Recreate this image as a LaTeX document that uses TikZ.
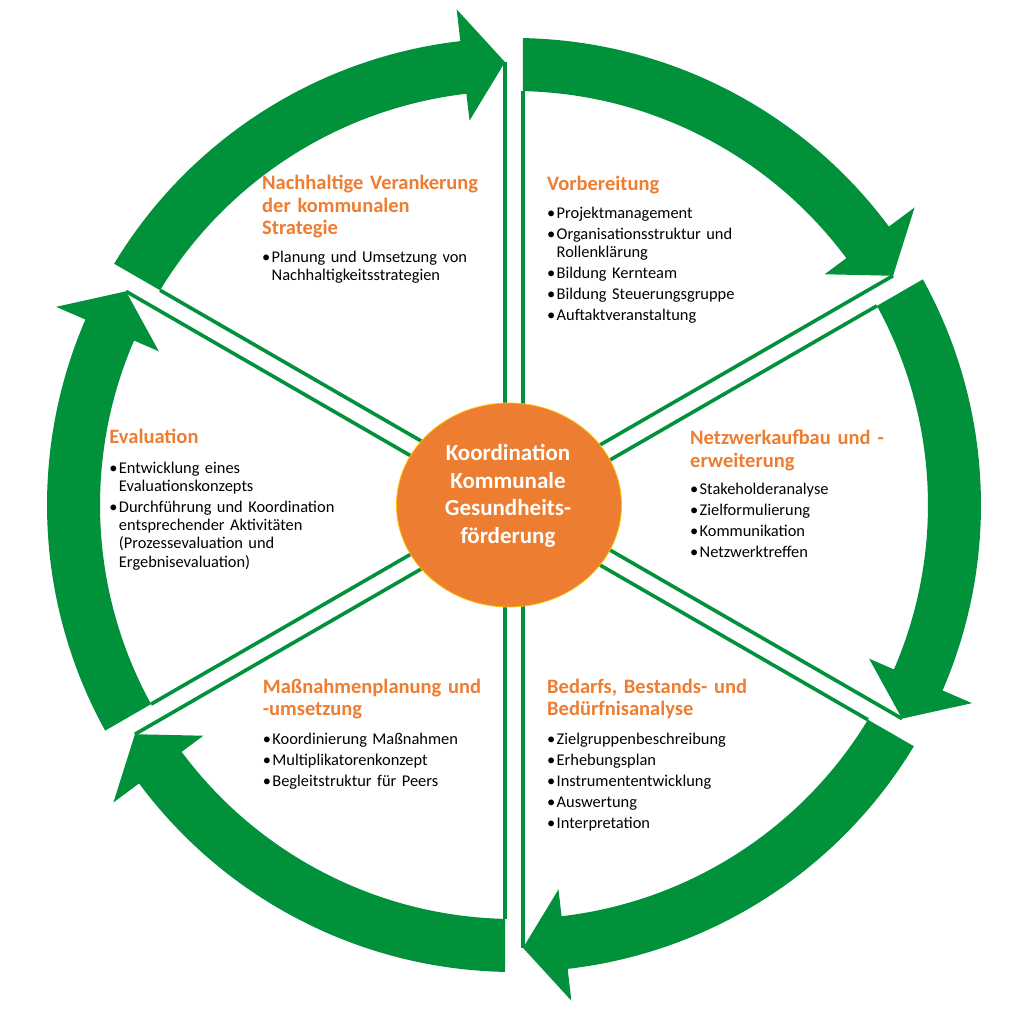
\documentclass[tikz,border=0pt]{standalone}
\usepackage{fontspec}
\setmainfont{Carlito}
\definecolor{KGFgreen}{HTML}{00913A}
\definecolor{KGForange}{HTML}{ED7D31}
\definecolor{KGFyellow}{HTML}{FFC000}
\usetikzlibrary{shapes.geometric}
\newcommand{\itm}{\makebox[9.5pt][l]{\textbullet}}
\newcommand{\cont}{\hspace*{9.5pt}}
\newcommand{\nxt}{\\[2.8pt]\itm}

\begin{document}
\begin{tikzpicture}[x=1pt,y=1pt,
  divider/.style={KGFgreen,line width=3.6pt},
  phase/.style={anchor=base west,inner sep=0pt,text width=300pt,align=left,font=\bfseries\fontsize{20.5}{22.5}\selectfont,text=KGForange},
  tasks/.style={anchor=base west,inner sep=0pt,text width=300pt,align=left,font=\fontsize{16.4}{18.2}\selectfont}]
  \useasboundingbox (-514,-514) rectangle (514,505);
  \foreach \ang in {120,60,0,-60,-120,180} {
    \begin{scope}[rotate=\ang]
    \fill[KGFgreen] ({30-asin(9/467)}:467) arc[start angle={30-asin(9/467)},end angle=-23.4,radius=467] -- (-23.4:499) -- ({-30+asin(9/443)}:443) -- (-23.4:387) -- (-23.4:414) arc[start angle=-23.4,end angle={30-asin(9/414)},radius=414] -- cycle;
    \draw[divider] (-60:9) -- ({30-asin(9/414)}:414);
    \draw[divider] (60:9) -- ({-30+asin(9/443)}:443);
    \end{scope}
  }
  \node[ellipse,fill=KGForange,draw=KGFyellow,line width=0.8pt,minimum width=225pt,minimum height=204pt,inner sep=0pt] (hub) at (-5,0) {};
  \node[anchor=base,inner sep=0pt,text width=200pt,align=center,font=\bfseries\fontsize{23}{27.5}\selectfont,text=white] (hubText) at (-6,44.3) {Koordination\\Kommunale\\Gesundheits-\\förderung};
  \node[phase] (nachhaltig) at (-252,315) {Nachhaltige Verankerung\\der kommunalen\\Strategie};
  \node[tasks] (nachhaltigList) at (-252,242.5) {\itm Planung und Umsetzung von\\\cont Nachhaltigkeitsstrategien};
  \node[phase] (vorbereitung) at (33,314) {Vorbereitung};
  \node[tasks] (vorbereitungList) at (33,286.7) {\itm Projektmanagement\nxt Organisationsstruktur und\\\cont Rollenklärung\nxt Bildung Kernteam\nxt Bildung Steuerungsgruppe\nxt Auftaktveranstaltung};
  \node[phase] (netzwerk) at (176,60) {Netzwerkaufbau und -\\erweiterung};
  \node[tasks] (netzwerkList) at (176,10) {\itm Stakeholderanalyse\nxt Zielformulierung\nxt Kommunikation\nxt Netzwerktreffen};
  \node[phase] (bedarf) at (33,-188.3) {Bedarfs, Bestands- und\\Bedürfnisanalyse};
  \node[tasks] (bedarfList) at (33,-240) {\itm Zielgruppenbeschreibung\nxt Erhebungsplan\nxt Instrumententwicklung\nxt Auswertung\nxt Interpretation};
  \node[phase] (massnahmen) at (-251.3,-188.3) {Maßnahmenplanung und\\-umsetzung};
  \node[tasks] (massnahmenList) at (-251.3,-240) {\itm Koordinierung Maßnahmen\nxt Multiplikatorenkonzept\nxt Begleitstruktur für Peers};
  \node[phase] (evaluation) at (-404.7,61.7) {Evaluation};
  \node[tasks] (evaluationList) at (-404.7,31.7) {\itm Entwicklung eines\\\cont Evaluationskonzepts\nxt Durchführung und Koordination\\\cont entsprechender Aktivitäten\\\cont (Prozessevaluation und\\\cont Ergebnisevaluation)};
\end{tikzpicture}
\end{document}
